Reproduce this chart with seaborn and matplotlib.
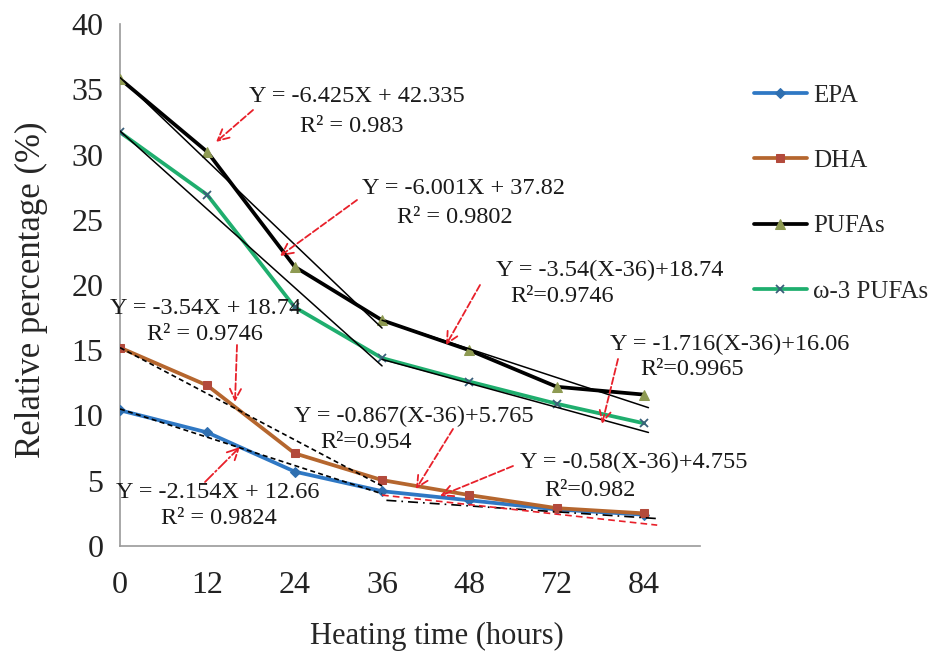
import numpy as np
import pandas as pd
import seaborn as sns
import matplotlib.pyplot as plt

# heating time categories (evenly spaced on the axis)
hours = ["0", "12", "24", "36", "48", "72", "84"]
epa = [10.4, 8.7, 5.7, 4.2, 3.5, 2.8, 2.4]
dha = [15.2, 12.3, 7.1, 5.05, 3.9, 2.9, 2.5]
pufas = [35.8, 30.2, 21.4, 17.3, 15.0, 12.2, 11.6]
w3_pufas = [31.7, 26.9, 18.3, 14.4, 12.6, 10.9, 9.4]

# trend line end points (x as category index)
trend_pufa_a = ([0, 3], [35.9, 16.7])
trend_w3_a = ([0, 3], [31.8, 13.8])
trend_pufa_b = ([3, 6.05], [17.3, 10.6])
trend_w3_b = ([3, 6.05], [14.3, 8.7])
trend_dha_a = ([0, 3], [15.2, 4.6])
trend_epa_a = ([0, 3], [10.5, 4.0])
trend_epa_b = ([3.05, 6.15], [3.5, 2.1])
trend_dha_b = ([3.0, 6.15], [3.9, 1.6])

# equation labels, one line each: (text, centre x px, centre y px)
eq_lines = [
    ("Y = -6.425X + 42.335", 357, 97), ("R² = 0.983", 352, 127),
    ("Y = -6.001X + 37.82", 464, 188), ("R² = 0.9802", 455, 217),
    ("Y = -3.54X + 18.74", 206, 308), ("R² = 0.9746", 205, 335),
    ("Y = -3.54(X-36)+18.74", 610, 270), ("R²=0.9746", 562, 296),
    ("Y = -1.716(X-36)+16.06", 730, 344), ("R²=0.9965", 692, 370),
    ("Y = -0.867(X-36)+5.765", 414, 416), ("R²=0.954", 366, 442),
    ("Y = -0.58(X-36)+4.755", 634, 462), ("R²=0.982", 590, 490),
    ("Y = -2.154X + 12.66", 218, 492), ("R² = 0.9824", 219, 518),
]
# red arrows: (from px, to px, linestyle)
arrows = [
    ((253, 110), (216, 142), "--"),
    ((357, 200), (280, 256), "--"),
    ((237, 345), (235, 402), "--"),
    ((205, 482), (240, 447), "-."),
    ((453, 429), (416, 489), "--"),
    ((513, 466), (440, 496), "--"),
    ((480, 285), (446, 345), "--"),
    ((618, 359), (602, 424), "--"),
]

W, H = 933, 660


def px(x, y):
    return x / W, 1 - y / H


sns.set_style("white")
plt.rcParams['font.family'] = ['Liberation Serif', 'DejaVu Serif']

fig = plt.figure(figsize=(W / 100, H / 100), dpi=100)
ax = fig.add_axes([120 / W, 1 - 546 / H, (700 - 120) / W, (546 - 24) / H])

xi = np.arange(len(hours))
sns.lineplot(x=xi, y=epa, ax=ax, label="EPA", color="#2f78c4", lw=2.7,
             marker="D", markersize=5, markerfacecolor="#2f6fb0", markeredgecolor="#2f6fb0", zorder=3)
sns.lineplot(x=xi, y=dha, ax=ax, label="DHA", color="#b5662e", lw=2.7,
             marker="s", markersize=6, markerfacecolor="#b34a3c", markeredgecolor="#b34a3c", zorder=3)
sns.lineplot(x=xi, y=pufas, ax=ax, label="PUFAs", color="black", lw=2.7,
             marker="^", markersize=7, markerfacecolor="#8e9a52", markeredgecolor="#8e9a52", zorder=3)
sns.lineplot(x=xi, y=w3_pufas, ax=ax, label="ω-3 PUFAs", color="#1fae6e", lw=2.7,
             marker="x", markersize=6, markeredgewidth=1.3, markeredgecolor="#3a5f7a", zorder=3)

for tx, ty in [trend_pufa_a, trend_w3_a, trend_pufa_b, trend_w3_b]:
    ax.plot(tx, ty, color="black", lw=1.1, zorder=4)
for tx, ty in [trend_dha_a, trend_epa_a]:
    ax.plot(tx, ty, color="black", lw=1.2, ls=(0, (3, 2)), zorder=4)
ax.plot(*trend_epa_b, color="black", lw=1.2, ls=(0, (6, 3, 1, 3)), zorder=4)
ax.plot(*trend_dha_b, color="#e8202a", lw=1.2, ls=(0, (4, 2.5)), zorder=4)

ax.set_xlim(0, 6.64)
ax.set_ylim(0, 40)
ax.set_xticks(xi)
ax.set_xticklabels(hours)
ax.set_yticks(range(0, 41, 5))
ax.tick_params(axis="both", labelsize=23, colors="#222222", direction="out",
               length=5, width=1, pad=7)
ax.tick_params(axis="x", length=6, pad=12, color="#999999")
ax.tick_params(axis="y", color="#999999")
for s in ["top", "right"]:
    ax.spines[s].set_visible(False)
for s in ["left", "bottom"]:
    ax.spines[s].set_color("#999999")
    ax.spines[s].set_linewidth(1.2)
ax.set_xlabel("Heating time (hours)", fontsize=22)
ax.set_ylabel("Relative percentage (%)", fontsize=25)
ax.xaxis.set_label_coords((437 - 120) / 580, (546 - 622) / 522)
ax.yaxis.set_label_coords((48 - 120) / 580, (546 - 290) / 522)

ax.legend(loc="upper left", bbox_to_anchor=px(754, 84), bbox_transform=fig.transFigure,
          frameon=False, fontsize=18, labelspacing=1.72, handlelength=2.1,
          handletextpad=0.25, borderaxespad=0, borderpad=0)

for txt, cx, cy in eq_lines:
    fig.text(*px(cx, cy), txt, ha="center", va="center", fontsize=17.5,
             color="#1a1a1a")

for (x0, y0), (x1, y1), ls in arrows:
    ax.annotate("", xy=px(x1, y1), xycoords="figure fraction",
                xytext=px(x0, y0), textcoords="figure fraction",
                arrowprops=dict(arrowstyle="->,head_length=0.8,head_width=0.4",
                                color="#e8202a", lw=1.3, ls=ls, shrinkA=0, shrinkB=0),
                zorder=6)

fig.savefig("out.png", dpi=100)
